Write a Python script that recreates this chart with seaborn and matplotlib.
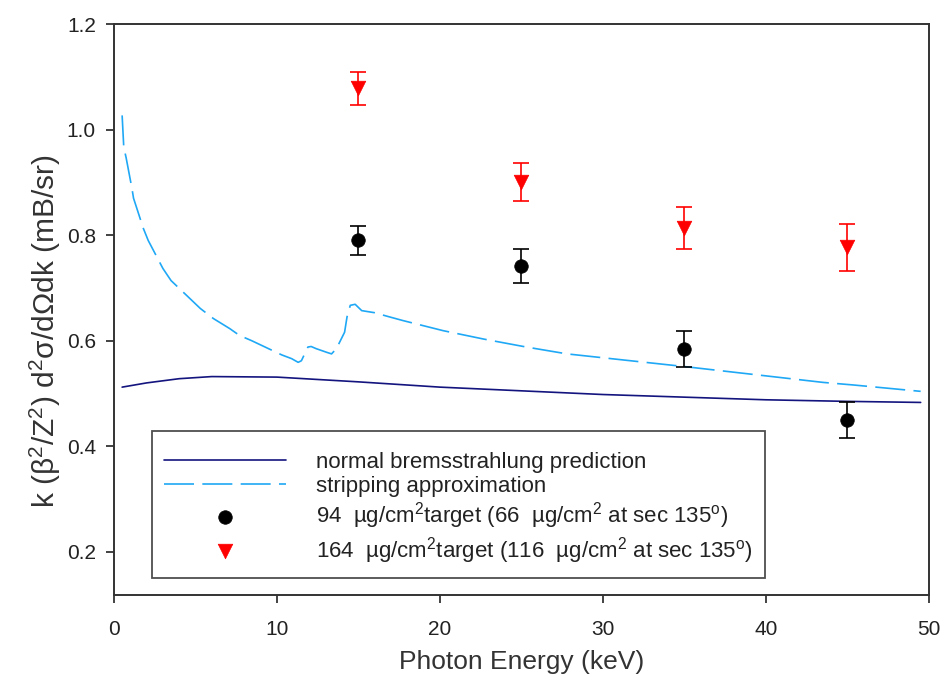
import numpy as np
import pandas as pd
import matplotlib
matplotlib.use("Agg")
import matplotlib.pyplot as plt
import seaborn as sns

# ---- data ----
brems_x = [0.5, 2.0, 4.0, 6.0, 10.0, 15.0, 20.0, 25.0, 30.0, 35.0, 40.0, 45.0, 49.5]
brems_y = [0.512, 0.520, 0.528, 0.532, 0.531, 0.522, 0.512, 0.505, 0.498, 0.493, 0.488, 0.485, 0.483]

strip_x = [0.5, 0.6, 0.75, 1.1, 1.2, 1.8, 2.1, 3.0, 3.5, 5.3, 6.1, 7.1, 7.7, 8.45,
           10.3, 10.9, 11.3, 11.5, 11.9, 12.1, 12.4, 13.05, 13.35, 13.65, 14.15,
           14.3, 14.5, 14.8, 15.2, 16.0, 16.8, 17.75, 20.2, 22.7, 25.3, 27.8,
           35.0, 43.5, 45.4, 49.5]
strip_y = [1.027, 0.967, 0.946, 0.889, 0.870, 0.813, 0.790, 0.737, 0.714, 0.661,
           0.642, 0.623, 0.610, 0.600, 0.573, 0.566, 0.559, 0.562, 0.588, 0.589,
           0.585, 0.578, 0.575, 0.585, 0.616, 0.645, 0.667, 0.669, 0.657, 0.653,
           0.646, 0.638, 0.619, 0.603, 0.588, 0.575, 0.551, 0.521, 0.516, 0.504]

energy = [15, 25, 35, 45]
t94_y = [0.790, 0.741, 0.585, 0.450]
t94_err = [0.028, 0.032, 0.034, 0.034]
t164_y = [1.078, 0.900, 0.813, 0.777]
t164_err = [0.032, 0.036, 0.040, 0.044]

labels = [
    "normal bremsstrahlung prediction",
    "stripping approximation",
    r"94  µg/cm$^{2}$target (66  µg/cm$^{2}$ at sec 135$^{\mathrm{o}}$)",
    r"164  µg/cm$^{2}$target (116  µg/cm$^{2}$ at sec 135$^{\mathrm{o}}$)",
]

sns.set_theme(style="white")
plt.rcParams["font.family"] = ["Liberation Sans", "DejaVu Sans"]
plt.rcParams["mathtext.fontset"] = "custom"
plt.rcParams["mathtext.rm"] = "Liberation Sans"
plt.rcParams["mathtext.it"] = "Liberation Sans:italic"
plt.rcParams["mathtext.bf"] = "Liberation Sans:bold"

navy = "#14147f"
sky = "#1fa8f5"

fig, ax = plt.subplots(figsize=(9.42, 6.89), dpi=100)
fig.subplots_adjust(left=0.121, right=0.986, top=0.965, bottom=0.1364)

df_b = pd.DataFrame({"x": brems_x, "y": brems_y})
df_s = pd.DataFrame({"x": strip_x, "y": strip_y})
sns.lineplot(data=df_b, x="x", y="y", ax=ax, color=navy, linewidth=1.2,
             label=labels[0], sort=False, estimator=None)
sns.lineplot(data=df_s, x="x", y="y", ax=ax, color=sky, linewidth=1.2,
             label=labels[1], sort=False, estimator=None)
ax.lines[-1].set_dashes((18, 5))

ax.errorbar(energy, t94_y, yerr=t94_err, fmt="none", ecolor="black",
            elinewidth=1.2, capsize=6, capthick=1.2, zorder=3)
ax.errorbar(energy, t164_y, yerr=t164_err, fmt="none", ecolor="#ff0000",
            elinewidth=1.2, capsize=6, capthick=1.2, zorder=3)
sns.scatterplot(x=energy, y=t94_y, ax=ax, marker="o", s=95, color="black",
                edgecolor="black", linewidth=0.5, label=labels[2], zorder=4)
sns.scatterplot(x=energy, y=t164_y, ax=ax, marker="v", s=110, color="#ff0000",
                edgecolor="#ff0000", linewidth=0.5, label=labels[3], zorder=4)

ax.set_xlim(0, 50)
ax.set_ylim(0.118, 1.2)
ax.set_xticks([0, 10, 20, 30, 40, 50])
ax.set_yticks([0.2, 0.4, 0.6, 0.8, 1.0, 1.2])
ax.set_yticklabels(["0.2", "0.4", "0.6", "0.8", "1.0", "1.2"])
ax.tick_params(axis="both", direction="out", length=6, width=1.2,
               labelsize=15, colors="#222222", bottom=True, left=True)
ax.tick_params(axis="x", pad=12)
ax.tick_params(axis="y", pad=7)
for sp in ax.spines.values():
    sp.set_color("#333333")
    sp.set_linewidth(1.4)

ax.set_xlabel("Photon Energy (keV)", fontsize=19, color="#333333", labelpad=8)
ax.set_ylabel("k (β$^{2}$/Z$^{2}$) d$^{2}$σ/dΩdk (mB/sr)",
              fontsize=21.5, color="#333333")
ax.yaxis.set_label_coords(-0.062, 0.462)

leg = ax.legend(loc="lower left", bbox_to_anchor=(0.0466, 0.03), fontsize=16,
                title=" ", title_fontsize=3.5,
                frameon=True, fancybox=False, edgecolor="#222222",
                handlelength=5.5, handletextpad=1.35, labelspacing=0.15,
                borderpad=0.55, borderaxespad=0)
leg.get_frame().set_linewidth(1.3)
for t in leg.get_texts():
    t.set_color("#222222")

fig.savefig("out.png", dpi=100)
